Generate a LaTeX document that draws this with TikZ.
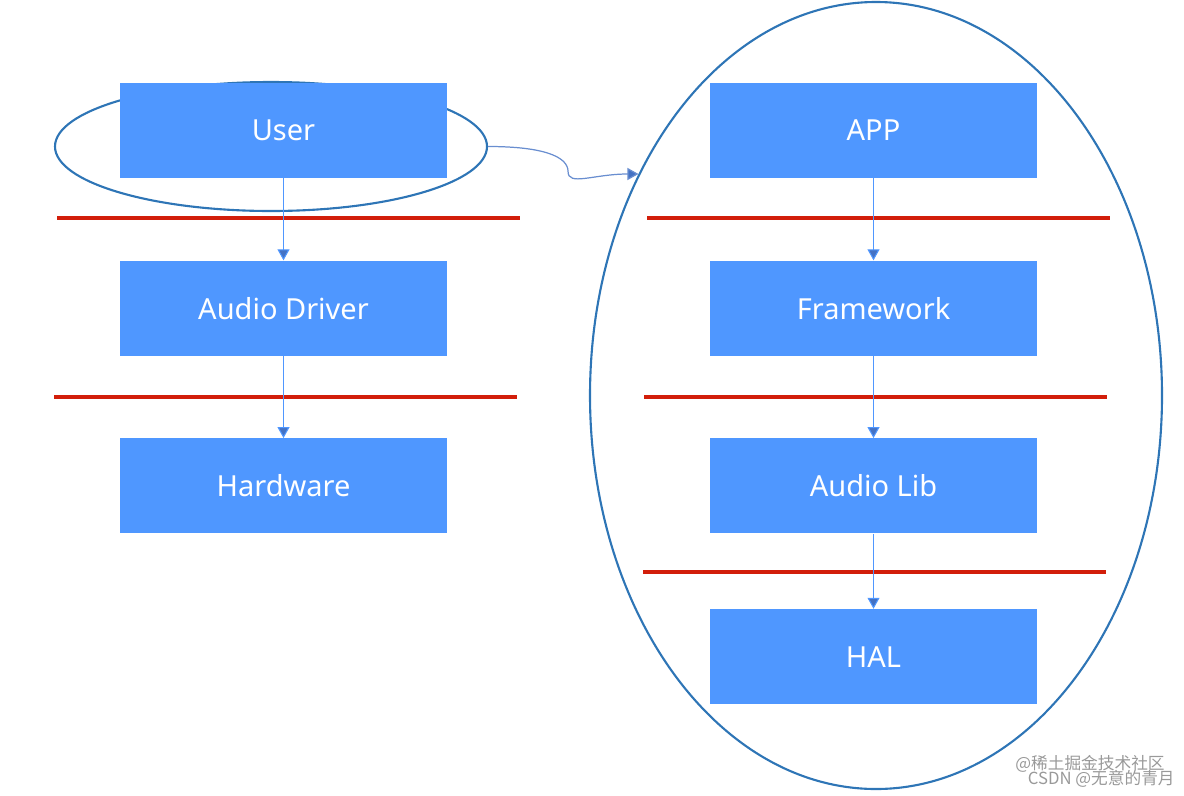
\documentclass[tikz,border=0pt]{standalone}
\usepackage{fontspec}
\setmainfont{Noto Sans}
\newfontfamily\cjkfont{Noto Sans CJK SC}
\usepackage{xcolor}
\usetikzlibrary{positioning, arrows.meta, shapes.geometric}
\definecolor{layerblue}{RGB}{79,151,255}
\definecolor{ringblue}{RGB}{46,117,182}
\definecolor{tipblue}{RGB}{68,114,196}
\definecolor{seprred}{RGB}{210,30,10}
\tikzset{
    layer/.style={rectangle, fill=layerblue, draw=none, minimum width=6.54cm, minimum height=1.9cm, text=white, font=\fontsize{16.5}{19}\selectfont},
    ring/.style={ellipse, draw=ringblue, line width=1.2pt, inner sep=0pt},
    sepline/.style={draw=seprred, line width=2.2pt},
    arrow/.style={draw=layerblue, line width=0.6pt, -{Triangle[width=0.24cm, length=0.22cm, fill=tipblue]}},
    link/.style={draw=tipblue!80, line width=0.7pt, -{Triangle[width=0.24cm, length=0.22cm, fill=tipblue]}},
    watermark/.style={text=black!40, font=\cjkfont\fontsize{9.5}{10}\selectfont, inner sep=0pt}
}
\begin{document}
\begin{tikzpicture}
    \useasboundingbox (0,0) rectangle (23.68,-15.9);
    % scopes of the two stacks
    \node[ring, minimum width=8.64cm, minimum height=2.58cm] (UserRing) at (5.42,-2.93) {};
    \node[ring, minimum width=11.44cm, minimum height=15.74cm] (AndroidRing) at (17.52,-7.91) {};

    % left stack
    \node[layer] (User) at (5.67,-2.61) {User};
    \node[layer, below=1.64cm of User] (Driver) {Audio Driver};
    \node[layer, below=1.64cm of Driver] (Hardware) {Hardware};

    % right stack
    \node[layer] (App) at (17.47,-2.61) {APP};
    \node[layer, below=1.64cm of App] (Framework) {Framework};
    \node[layer, below=1.64cm of Framework] (AudioLib) {Audio Lib};
    \node[layer, below=1.5cm of AudioLib] (Hal) {HAL};

    % layer borders
    \draw[sepline] (1.14,-4.36) -- (10.40,-4.36);
    \draw[sepline] (1.08,-7.94) -- (10.34,-7.94);
    \draw[sepline] (12.94,-4.36) -- (22.20,-4.36);
    \draw[sepline] (12.88,-7.94) -- (22.14,-7.94);
    \draw[sepline] (12.86,-11.44) -- (22.12,-11.44);

    \draw[arrow] (User) -- (Driver);
    \draw[arrow] (Driver) -- (Hardware);
    \draw[arrow] (App) -- (Framework);
    \draw[arrow] (Framework) -- (AudioLib);
    \draw[arrow] (AudioLib) -- (Hal);

    \draw[link] (UserRing.east) .. controls +(1.1,0) and +(0,0.3) .. ++(1.6,-0.5)
        .. controls +(0,-0.3) and +(-0.9,0) .. (AndroidRing.137);

    \node[watermark, anchor=east] (Mark1) at (23.3,-15.28) {@稀土掘金技术社区};
    \node[watermark, anchor=east] (Mark2) at (23.5,-15.58) {CSDN @无意的青月};
\end{tikzpicture}
\end{document}
